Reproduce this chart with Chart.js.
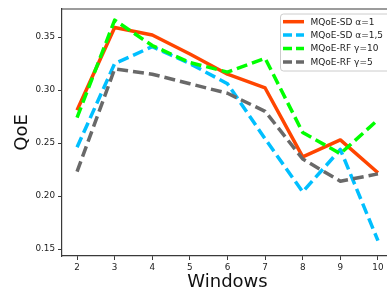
<!DOCTYPE html>
<html>
<head>
<meta charset="utf-8">
<script src="https://cdn.jsdelivr.net/npm/chart.js@4"></script>
<style>
    html, body { margin: 0; padding: 0; overflow: hidden; background: #fff; }
    #wrap { width: 394px; height: 298px; }
</style>
</head>
<body>
<div id="wrap"><canvas id="qoeChart"></canvas></div>
<script>
// Data
const windows = [2, 3, 4, 5, 6, 7, 8, 9, 10]
const sdAlpha1 = [0.281, 0.359, 0.352, 0.334, 0.315, 0.302, 0.237, 0.253, 0.222]
const sdAlpha15 = [0.246, 0.325, 0.341, 0.325, 0.306, 0.254, 0.204, 0.244, 0.158]
const rfGamma10 = [0.274, 0.366, 0.342, 0.326, 0.317, 0.330, 0.260, 0.240, 0.272]
const rfGamma5 = [0.223, 0.320, 0.315, 0.306, 0.297, 0.280, 0.235, 0.214, 0.221]
const seriesNames = ['MQoE-SD α=1', 'MQoE-SD α=1,5', 'MQoE-RF γ=10', 'MQoE-RF γ=5']
const yTicks = [0.15, 0.2, 0.25, 0.3, 0.35]

const colors = ['#ff4500', '#00bfff', '#00ff00', '#696969']
const dashes = [[], [11, 5], [11, 5], [11, 5]]
const allSeries = [sdAlpha1, sdAlpha15, rfGamma10, rfGamma5]
const axisColor = '#3a3a3a'
const font = 'DejaVu Sans'

const datasets = allSeries.map((values, i) => ({
    label: seriesNames[i],
    data: windows.map((w, j) => ({ x: w, y: values[j] })),
    borderColor: colors[i],
    borderWidth: 3.5,
    borderDash: dashes[i],
    borderCapStyle: 'butt',
    borderJoinStyle: 'round',
    pointRadius: 0,
    tension: 0,
    fill: false,
    order: 4 - i
}))

// Top frame line + legend inside the plot
const framePlugin = {
    id: 'frame',
    afterDraw(chart) {
        const { ctx, chartArea } = chart
        ctx.save()
        ctx.strokeStyle = axisColor
        ctx.lineWidth = 1.2
        ctx.beginPath()
        ctx.moveTo(chartArea.left, chartArea.top)
        ctx.lineTo(chartArea.right, chartArea.top)
        ctx.stroke()

        // legend box
        const bx = 280.5, by = 14, bw = 130, bh = 57
        ctx.fillStyle = 'rgba(255,255,255,0.85)'
        ctx.strokeStyle = '#cccccc'
        ctx.lineWidth = 1
        ctx.beginPath()
        ctx.roundRect(bx, by, bw, bh, 3)
        ctx.fill()
        ctx.stroke()

        const rows = [21.7, 35, 48.5, 62]
        seriesNames.forEach((name, i) => {
            ctx.strokeStyle = colors[i]
            ctx.lineWidth = 3.5
            ctx.setLineDash(dashes[i].length ? [9, 4] : [])
            ctx.lineCap = 'butt'
            ctx.beginPath()
            ctx.moveTo(283, rows[i])
            ctx.lineTo(304, rows[i])
            ctx.stroke()
            ctx.setLineDash([])
            ctx.fillStyle = '#222'
            ctx.font = '9px "' + font + '"'
            ctx.textBaseline = 'middle'
            ctx.textAlign = 'left'
            ctx.fillText(name, 310.5, rows[i] + 0.5)
        })
        ctx.restore()
    }
}

new Chart(document.getElementById('qoeChart'), {
    type: 'line',
    data: { datasets: datasets },
    plugins: [framePlugin],
    options: {
        responsive: true,
        maintainAspectRatio: false,
        animation: false,
        events: [],
        layout: { padding: { top: 9, right: 1, left: 0, bottom: 0 } },
        plugins: {
            legend: { display: false },
            tooltip: { enabled: false }
        },
        scales: {
            x: {
                type: 'linear',
                min: 1.6,
                max: 10.4,
                afterBuildTicks: (scale) => {
                    scale.ticks = windows.map((v) => ({ value: v }))
                },
                afterFit: (scale) => {
                    scale.height = 42
                },
                grid: {
                    drawOnChartArea: false,
                    drawTicks: true,
                    tickLength: 4,
                    tickWidth: 1,
                    color: axisColor
                },
                border: { display: true, color: axisColor, width: 1.2 },
                ticks: {
                    color: '#222',
                    padding: 2,
                    maxRotation: 0,
                    font: { family: font, size: 8.8 },
                    callback: (v) => String(v)
                },
                title: {
                    display: true,
                    text: 'Windows',
                    color: '#111',
                    padding: { top: 0, bottom: 5 },
                    font: { family: font, size: 18 }
                }
            },
            y: {
                type: 'linear',
                min: 0.1435,
                max: 0.3765,
                afterBuildTicks: (scale) => {
                    scale.ticks = yTicks.map((v) => ({ value: v }))
                },
                afterFit: (scale) => {
                    scale.width = 62
                },
                grid: {
                    drawOnChartArea: false,
                    drawTicks: true,
                    tickLength: 4,
                    tickWidth: 1,
                    color: axisColor
                },
                border: { display: true, color: axisColor, width: 1.2 },
                ticks: {
                    color: '#222',
                    padding: 3,
                    font: { family: font, size: 8.8 },
                    callback: (v) => v.toFixed(2)
                },
                title: {
                    display: true,
                    text: 'QoE',
                    color: '#111',
                    padding: { top: 12, bottom: 0 },
                    font: { family: font, size: 18 }
                }
            }
        }
    }
})
</script>
</body>
</html>
